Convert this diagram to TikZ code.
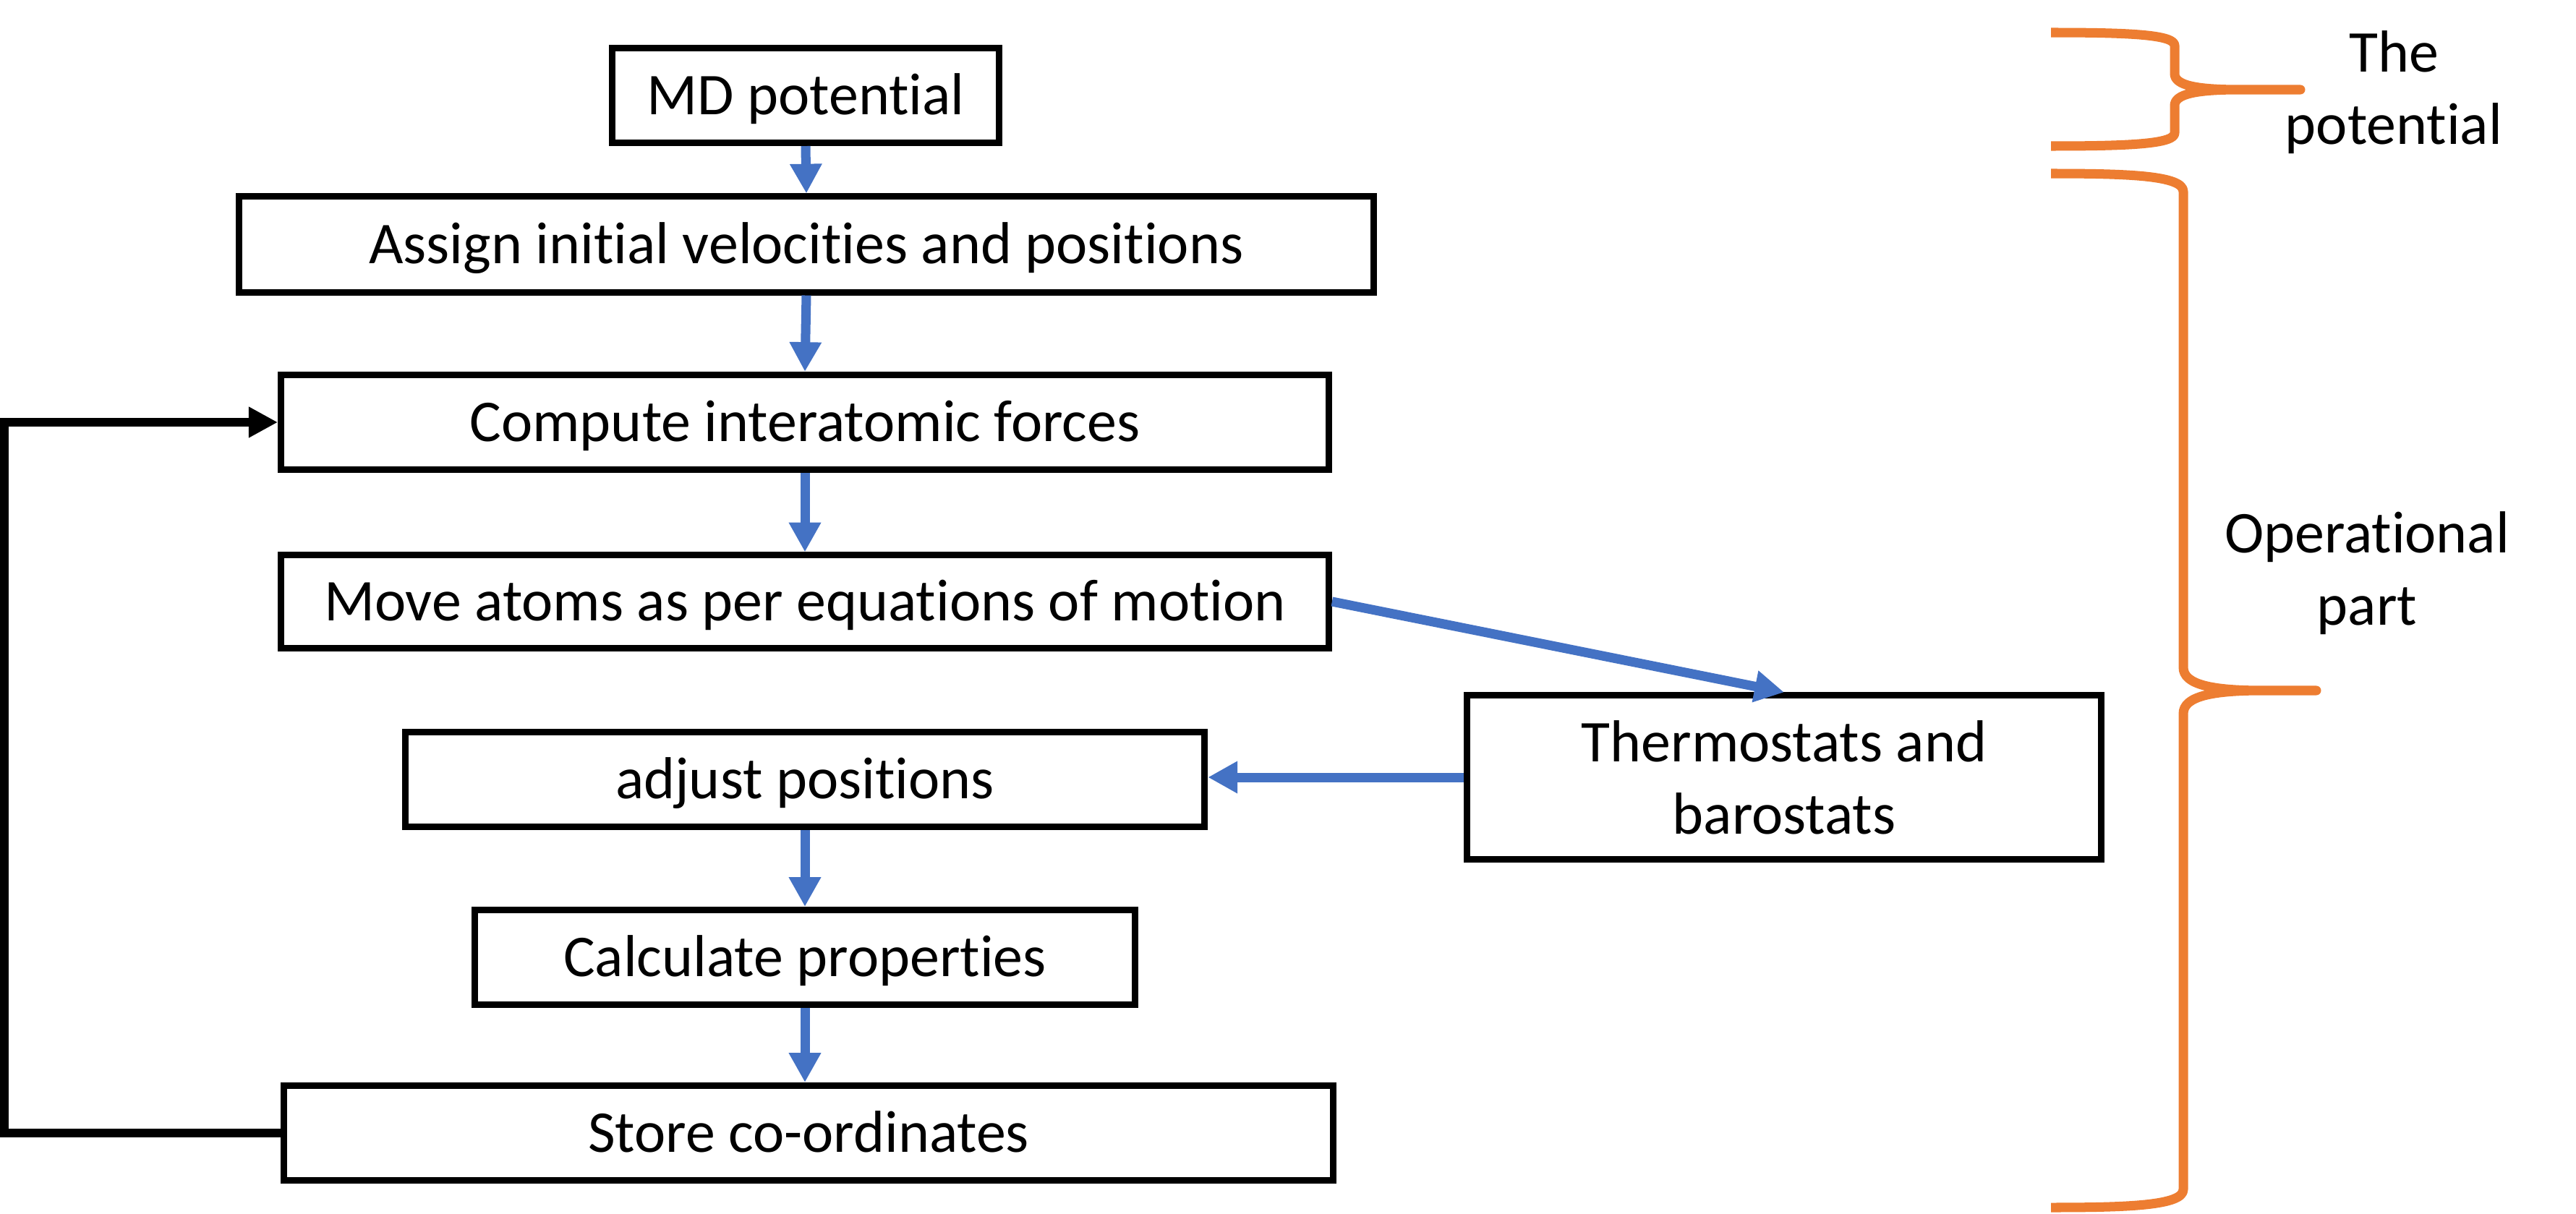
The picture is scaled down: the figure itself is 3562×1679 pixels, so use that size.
\documentclass[tikz,border=0pt]{standalone}
\usepackage{fontspec}
\setmainfont{Carlito}[Ligatures=NoCommon]
\usetikzlibrary{arrows.meta}
\definecolor{flowblue}{HTML}{4472C4}
\definecolor{braceorange}{HTML}{ED7D31}
\tikzset{%
  stepbox/.style={draw, line width=2.56pt, inner sep=0pt, align=center, font=\fontsize{23.3}{28.5}\selectfont},%
  oneline/.style={text height=21pt, text depth=5.8pt},%
  sidetext/.style={inner sep=0pt, align=center, font=\fontsize{23.3}{28.5}\selectfont},%
  flow/.style={draw=flowblue, line width=3.7pt, -{Triangle[length=11.6pt,width=11.9pt]}},%
  loopback/.style={draw=black, line width=3.4pt, -{Triangle[length=11.4pt,width=11.4pt]}},%
  bracket/.style={draw=braceorange, line width=3.7pt, line join=round}%
}
\begin{document}
\begin{tikzpicture}[x=0.01cm,y=-0.01cm]%
\useasboundingbox (0,0) rectangle (3562,1679);%
%
\node[stepbox, oneline, minimum width=5.34cm, minimum height=1.31cm] (mdpot) at (1114,132) {MD potential};%
\node[stepbox, oneline, minimum width=15.68cm, minimum height=1.32cm] (assign) at (1115,338) {Assign initial velocities and positions};%
\node[stepbox, oneline, minimum width=14.48cm, minimum height=1.31cm] (compute) at (1113,584) {Compute interatomic forces};%
\node[stepbox, oneline, minimum width=14.48cm, minimum height=1.28cm] (move) at (1113,832) {Move atoms as per equations of motion};%
\node[stepbox, oneline, minimum width=11.05cm, minimum height=1.31cm] (adjust) at (1113,1078) {adjust positions};%
\node[stepbox, oneline, minimum width=9.12cm, minimum height=1.31cm] (calc) at (1113,1324) {Calculate properties};%
\node[stepbox, oneline, minimum width=14.50cm, minimum height=1.31cm] (store) at (1118,1567) {Store co-ordinates};%
\node[stepbox, minimum width=8.76cm, minimum height=2.26cm] (thermo) at (2467,1075) {Thermostats and\\barostats};%
%
\draw[flow] (mdpot.south) -- (assign.north);%
\draw[flow] (assign.south) -- (compute.north);%
\draw[flow] (compute.south) -- (move.north);%
\draw[flow] (move.east) -- (thermo.north);%
\draw[flow] (thermo.west) -- (thermo.west -| adjust.east);%
\draw[flow] (adjust.south) -- (calc.north);%
\draw[flow] (calc.south) -- (calc.south |- store.north);%
%
\coordinate (back) at (6,1567);%
\draw[loopback] (store.west) -- (back) |- (compute.west);%
%
\def\xleft{2836};%
\def\xbar{3007};%
\def\xtip{3181};%
\def\ytop{45};%
\def\ymid{124};%
\def\ybot{202};%
\draw[bracket] (\xleft,\ytop) .. controls (\xleft+110,\ytop) and (\xbar,\ytop+3) .. (\xbar,\ytop+18) -- (\xbar,\ymid-22) .. controls (\xbar,\ymid-6) and (\xbar+30,\ymid) .. (\xbar+90,\ymid) -- (\xtip,\ymid) -- (\xbar+90,\ymid) .. controls (\xbar+30,\ymid) and (\xbar,\ymid+6) .. (\xbar,\ymid+22) -- (\xbar,\ybot-18) .. controls (\xbar,\ybot-3) and (\xleft+110,\ybot) .. (\xleft,\ybot);%
\node[sidetext] (potlabel) at (3310,128) {The\\potential};%
%
\def\xleft{2836};%
\def\xbar{3019};%
\def\xtip{3203};%
\def\ytop{240};%
\def\ymid{955};%
\def\ybot{1670};%
\draw[bracket] (\xleft,\ytop) .. controls (\xleft+110,\ytop) and (\xbar,\ytop+3) .. (\xbar,\ytop+25) -- (\xbar,\ymid-32) .. controls (\xbar,\ymid-8) and (\xbar+40,\ymid) .. (\xbar+110,\ymid) -- (\xtip,\ymid) -- (\xbar+110,\ymid) .. controls (\xbar+40,\ymid) and (\xbar,\ymid+8) .. (\xbar,\ymid+32) -- (\xbar,\ybot-25) .. controls (\xbar,\ybot-3) and (\xleft+110,\ybot) .. (\xleft,\ybot);%
\node[sidetext] (oplabel) at (3273,793) {Operational\\part};%
%
\end{tikzpicture}
\end{document}
